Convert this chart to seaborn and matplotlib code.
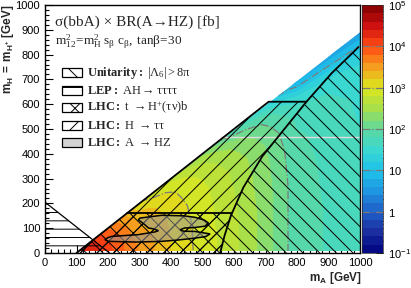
import numpy as np
import matplotlib
matplotlib.use("Agg")
import matplotlib.pyplot as plt
from matplotlib.colors import LinearSegmentedColormap, Normalize
from matplotlib.patches import Polygon, Rectangle
import seaborn as sns

# --- values ---
# log10(sigma x BR / fb), one list per m_A column; rows sit at a fixed
# distance (m_A - m_H) below the kinematic edge
ma_cols = [100, 150, 200, 300, 400, 500, 600, 700, 800, 900, 1000]
gap_rows = [90, 115, 140, 170, 210, 260, 350, 500, 700, 1000]
lsig_100 = [4.5, 4.5, 4.5, 4.5, 4.5, 4.5, 4.5, 4.5, 4.5, 4.5]
lsig_150 = [4.2, 4.3, 4.35, 4.4, 4.4, 4.4, 4.4, 4.4, 4.4, 4.4]
lsig_200 = [3.7, 3.85, 3.95, 4.05, 4.1, 4.1, 4.1, 4.1, 4.1, 4.1]
lsig_300 = [3.0, 3.1, 3.25, 3.35, 3.45, 3.55, 3.6, 3.6, 3.6, 3.6]
lsig_400 = [2.55, 2.8, 2.95, 3.05, 3.1, 3.15, 3.2, 3.2, 3.2, 3.2]
lsig_500 = [2.2, 2.45, 2.6, 2.72, 2.8, 2.86, 2.9, 2.92, 2.92, 2.92]
lsig_600 = [1.5, 1.9, 2.15, 2.35, 2.45, 2.55, 2.6, 2.65, 2.65, 2.65]
lsig_700 = [1.0, 1.45, 1.75, 1.95, 2.08, 2.18, 2.25, 2.3, 2.3, 2.3]
lsig_800 = [0.6, 0.85, 1.1, 1.4, 1.62, 1.76, 1.84, 1.88, 1.88, 1.88]
lsig_900 = [0.45, 0.7, 0.95, 1.2, 1.45, 1.6, 1.7, 1.75, 1.78, 1.78]
lsig_1000 = [0.3, 0.55, 0.8, 1.05, 1.3, 1.45, 1.55, 1.6, 1.65, 1.65]

# kinematically allowed (coloured) triangle
region_ma = [105, 1000, 1000]
region_mh = [8, 890, 8]

# unitarity boundary
unit_ma = [556, 570, 590, 630, 690, 760, 830, 910, 995]
unit_mh = [0, 70, 150, 265, 390, 500, 610, 725, 830]

# LHC H -> tautau upper boundary
htt_ma = [100, 710, 830]
htt_mh = [0, 610, 610]

# LHC t -> H+ b limit
hp_ma = [260, 594]
hp_mh = [160, 160]

# LEP AH -> 4tau
lep_ma = [0, 0, 205]
lep_mh = [0, 205, 0]

# LHC A -> HZ excluded island
ahz_ma = [302, 370, 440, 476, 505, 519, 508, 470, 444, 429, 440, 476, 524, 510,
          476, 420, 370, 290, 201, 190, 200, 212, 296, 349, 360, 345, 328, 317, 296]
ahz_mh = [141, 152, 150, 144, 133, 121, 108, 102, 101, 94, 88, 87, 77, 66,
          60, 52, 47, 44, 47, 54, 62, 67, 74, 85, 90, 97, 101, 114, 134]

# odd light row in the histogram
stripe_ma = [560, 1000]
stripe_mh = [466, 466]

contour_levels = [1, 2, 3]
cbar_decades = [-1, 0, 1, 2, 3, 4, 5]
cbar_labels = [r"$\mathsf{10^{-1}}$", r"$\mathsf{1}$", r"$\mathsf{10}$", r"$\mathsf{10^{2}}$",
               r"$\mathsf{10^{3}}$", r"$\mathsf{10^{4}}$", r"$\mathsf{10^{5}}$"]

legend_labels = [r"$\mathbf{Unitarity:}\ |\Lambda_{6}| > 8\pi$",
                 r"$\mathbf{LEP:}\ AH \rightarrow \tau\tau\tau\tau$",
                 r"$\mathbf{LHC:}\ t\ \rightarrow H^{+}(\tau\nu)b$",
                 r"$\mathbf{LHC:}\ H\ \rightarrow \tau\tau$",
                 r"$\mathbf{LHC:}\ A\ \rightarrow HZ$"]
legend_hatches = ["\\\\", "--", "xx", "//", ""]

# --- style ---
sns.set_theme(style="ticks")
plt.rcParams["font.family"] = ["Liberation Sans", "DejaVu Sans"]
plt.rcParams["mathtext.fontset"] = "custom"
plt.rcParams["mathtext.rm"] = "Liberation Serif"
plt.rcParams["mathtext.it"] = "Liberation Serif:italic"
plt.rcParams["mathtext.bf"] = "Liberation Serif:bold"
plt.rcParams["mathtext.sf"] = "Liberation Sans"
plt.rcParams["mathtext.tt"] = "Liberation Sans:bold"
plt.rcParams["mathtext.default"] = "rm"
plt.rcParams["hatch.linewidth"] = 0.7

cmap = LinearSegmentedColormap.from_list("rootrainbow", [
    "#000080", "#1a2fa0", "#1f5fc8", "#1f95e0", "#1ec3ea", "#3ad8d0", "#5fd8a0",
    "#a8e04a", "#dce61e", "#f5a01e", "#ff4d14", "#d01010", "#7f0000"])

fig = plt.figure(figsize=(4.11, 2.88), dpi=100)
ax = fig.add_axes([45 / 411, 35 / 288, 315 / 411, 248 / 288])
cax = fig.add_axes([362 / 411, 35 / 288, 21 / 411, 248 / 288])

# heat map
Z = np.array([lsig_100, lsig_150, lsig_200, lsig_300, lsig_400, lsig_500,
              lsig_600, lsig_700, lsig_800, lsig_900, lsig_1000]).T
X, G = np.meshgrid(ma_cols, gap_rows)
Y = X - G
tri = Polygon(list(zip(region_ma, region_mh)), closed=True, transform=ax.transData)
cs = ax.contourf(X, Y, Z, levels=np.linspace(-1, 5, 31), cmap=cmap,
                 norm=Normalize(-1, 5), zorder=1)
cs.set_clip_path(tri)
cl = ax.contour(X, Y, Z, levels=contour_levels, colors="#7a7a7a",
                linestyles="dashdot", linewidths=0.9, zorder=2)
cl.set_clip_path(Polygon(list(zip(region_ma, region_mh)), closed=True, transform=ax.transData))
ax.plot(stripe_ma, stripe_mh, color="#e2dada", lw=1.0, zorder=2.5)

# excluded regions
unit_pts = list(zip(unit_ma, unit_mh))
unit_poly = unit_pts + [(1000, unit_mh[-1]), (1000, 0)]
htt_poly = list(zip(htt_ma, htt_mh)) + [p for p in unit_pts[::-1] if p[1] < htt_mh[-1]]
hp_poly = [(htt_ma[0], htt_mh[0])] + list(zip(hp_ma, hp_mh)) + \
    [p for p in unit_pts[::-1] if p[1] < hp_mh[-1]]
lep_poly = list(zip(lep_ma, lep_mh))
for poly, h in [(unit_poly, "\\\\"), (lep_poly, "--"), (hp_poly, "xx"), (htt_poly, "//")]:
    ax.add_patch(Polygon(poly, closed=True, fill=False, hatch=h,
                         edgecolor="black", lw=0, zorder=3))

ahz = list(zip(ahz_ma, ahz_mh))
ax.add_patch(Polygon(ahz, closed=True, facecolor="#9a9a9a", alpha=0.55, lw=0, zorder=4))
ax.add_patch(Polygon(ahz, closed=True, fill=False, edgecolor="black", lw=1.1, zorder=4.5))

# boundary lines
sns.lineplot(x=unit_ma, y=unit_mh, sort=False, estimator=None, color="black", lw=1.3, ax=ax, zorder=5)
sns.lineplot(x=htt_ma, y=htt_mh, sort=False, estimator=None, color="black", lw=1.3, ax=ax, zorder=5)
sns.lineplot(x=hp_ma, y=hp_mh, sort=False, estimator=None, color="black", lw=1.3, ax=ax, zorder=5)
ax.plot(lep_ma[1:], lep_mh[1:], color="black", lw=0.9, zorder=5)

ax.set_xlim(0, 1000)
ax.set_ylim(0, 1000)
ax.set_xticks(np.arange(0, 1001, 100))
ax.set_yticks(np.arange(0, 1001, 100))
ax.set_xticks(np.arange(0, 1001, 20), minor=True)
ax.set_yticks(np.arange(0, 1001, 20), minor=True)
ax.tick_params(which="both", direction="in", top=False, right=False,
               labelsize=8, colors="black", width=0.8)
ax.tick_params(which="major", length=5.5)
ax.tick_params(which="minor", length=2.8)
for s in ax.spines.values():
    s.set_color("black")
    s.set_linewidth(1.0)

ax.set_xlabel(r"$\mathtt{m_{A}}$ [GeV]", fontsize=8.5, fontweight="bold", ha="right", va="center")
ax.xaxis.set_label_coords(1.006, -0.1)
ax.set_ylabel(r"$\mathtt{m_{H}\ =\ m_{H^{+}}}$ [GeV]", fontsize=8.5, fontweight="bold",
              ha="right", va="center")
ax.yaxis.set_label_coords(-0.118, 1.0)

# texts and legend
ax.text(0.032, 0.931, "σ(bbA) × BR(A→HZ) [fb]", family="Liberation Serif",
        fontsize=11, va="center", ha="left", transform=ax.transAxes)
ax.text(0.032, 0.85, r"$\mathrm{m^{2}_{12}\!=\!m^{2}_{H}\ s_{\beta}\ c_{\beta},\ tan\beta\!=\!30}$",
        fontsize=9.5, va="center", ha="left", transform=ax.transAxes)
leg_y = [0.726, 0.655, 0.585, 0.514, 0.444]
for lab, h, yy in zip(legend_labels, legend_hatches, leg_y):
    fc = "#d3d3d3" if h == "" else "white"
    ax.add_patch(Rectangle((0.054, yy - 0.018), 0.063, 0.036, transform=ax.transAxes,
                           facecolor=fc, hatch=h, edgecolor="black", lw=0.9,
                           zorder=6, clip_on=False))
    ax.text(0.133, yy, lab, fontsize=9, va="center", ha="left", zorder=6,
            transform=ax.transAxes)

# colour bar
cb = fig.colorbar(cs, cax=cax)
cb.outline.set_linewidth(0.5)
cax.set_ylim(-1, 5)
cax.set_yticks(cbar_decades)
cax.set_yticklabels(cbar_labels)
minor = [d + np.log10(k) for d in range(-1, 5) for k in range(2, 10)]
cax.set_yticks(minor, minor=True)
cax.tick_params(which="both", direction="in", right=True, left=False,
                labelsize=8, colors="black", width=0.7)
cax.tick_params(which="major", length=5)
cax.tick_params(which="minor", length=3)
for lev in range(0, 5):
    cax.axhline(lev, color="#7a7a7a", ls="-.", lw=0.9)

fig.savefig("out.png", dpi=100)
